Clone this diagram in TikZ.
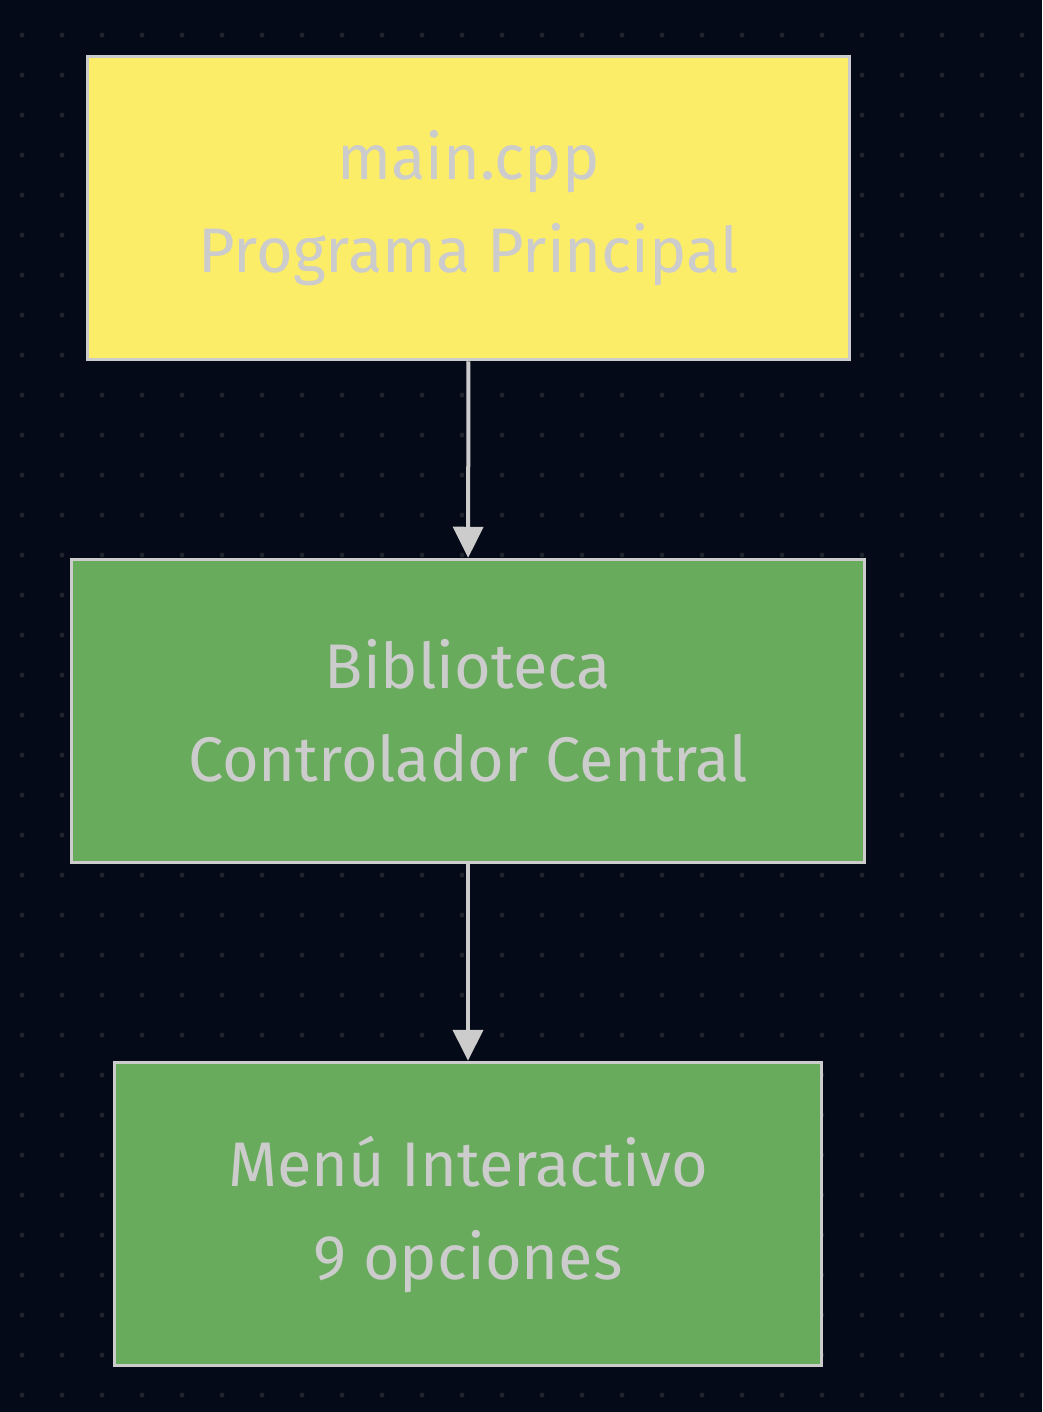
\documentclass[tikz,border=0pt]{standalone}
\usepackage{fontspec}
\setmainfont{Fira Sans}
\usetikzlibrary{arrows.meta}
\definecolor{bgnavy}{HTML}{050A18}
\definecolor{griddot}{HTML}{20242F}
\definecolor{mainyellow}{HTML}{FCED68}
\definecolor{libgreen}{HTML}{68AB5C}
\definecolor{edgegray}{HTML}{CCCCCC}
\begin{document}
\begin{tikzpicture}[x=1pt,y=-1pt,
  box/.style={draw=edgegray, line width=3.5pt, minimum height=303pt,
    align=center, text=edgegray, font=\fontsize{63}{93}\selectfont},
  flow/.style={draw=edgegray, line width=4pt,
    -{Triangle[length=31pt,width=30pt]}}]
  \useasboundingbox (0,0) rectangle (1042,1412);
  \fill[bgnavy] (0,0) rectangle (1042,1412);
  % dotted grid
  \foreach \i in {0,...,25}
    \foreach \j in {0,...,34}
      \fill[griddot] (22+40*\i,35+40*\j) circle (2.4pt);
  \node[box, fill=mainyellow, minimum width=762pt] (main) at (468.5,208)
      {main.cpp\\Programa Principal};
  \node[box, fill=libgreen, minimum width=793pt] (biblio) at (468,711)
      {Biblioteca\\Controlador Central};
  \node[box, fill=libgreen, minimum width=707pt] (menu) at (468,1214)
      {Menú Interactivo\\9 opciones};
  \draw[flow] (main) -- (biblio);
  \draw[flow] (biblio) -- (menu);
\end{tikzpicture}
\end{document}
